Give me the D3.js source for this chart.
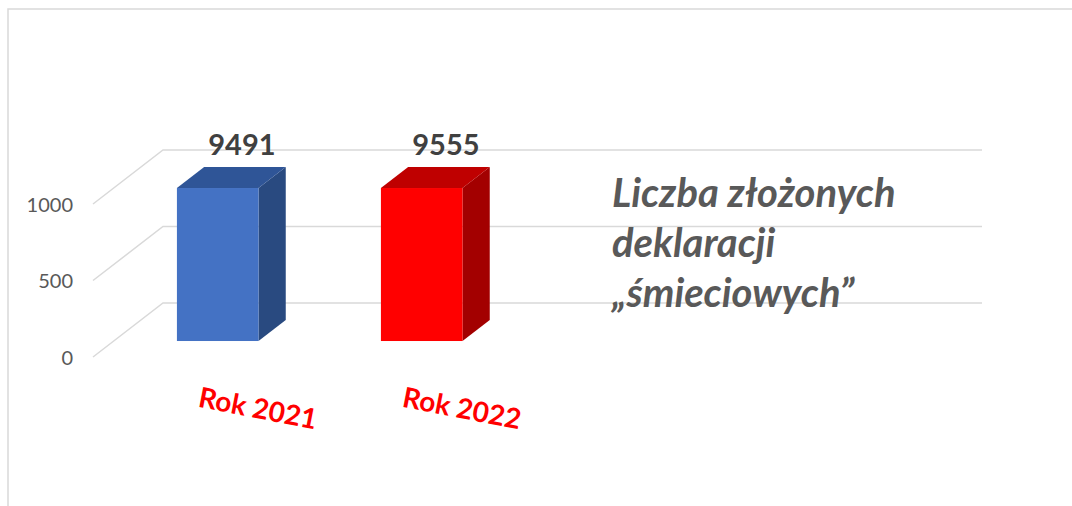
<!DOCTYPE html>
<html>
<head>
<meta charset="utf-8">
<script src="https://cdn.jsdelivr.net/npm/d3@7"></script>
<style>
  html, body { margin: 0; padding: 0; background: #fff; }
  svg { display: block; }
</style>
</head>
<body>
<div id="chart"></div>
<script>
// chart data
var categories = ["Rok 2021", "Rok 2022"];
var values = [9491, 9555];
var tickValues = [0, 500, 1000];
var titleLines = ["Liczba złożonych", "deklaracji", "„śmieciowych”"];

var frontColors = ["#4472C4", "#FF0000"];
var topColors = ["#2F5597", "#BF0000"];
var sideColors = ["#294A80", "#A30000"];

function init() {
    var width = 1072, height = 506;
    var fontFamily = "Lato, 'Open Sans', sans-serif";

    var svg = d3.select("#chart")
        .append("svg")
        .attr("width", width)
        .attr("height", height);

    // chart frame (runs off the right and bottom edge)
    svg.append("rect")
        .attr("x", 8)
        .attr("y", 9)
        .attr("width", width + 20)
        .attr("height", height + 20)
        .attr("fill", "none")
        .attr("stroke", "#d9d9d9")
        .attr("stroke-width", 1.5);

    // depth vector of the floor (front edge -> back wall)
    var depthX = 70, depthY = -54;
    var wallRight = 982;

    // y scale on the front plane; values above the axis max are cut off
    var y = d3.scaleLinear()
        .domain([0, 1000])
        .range([357, 204])
        .clamp(true);

    // x scale on the front plane
    var x = d3.scaleBand()
        .domain(categories)
        .range([95, 503])
        .paddingInner(0.6)
        .paddingOuter(0.3);

    function proj(px, v, z) {
        return [px + z * depthX, y(v) + z * depthY];
    }

    // gridlines: side wall + back wall
    var frontLeft = 93;
    svg.append("g")
        .selectAll("polyline")
        .data(tickValues)
        .join("polyline")
        .attr("points", function (t) {
            var a = proj(frontLeft, t, 0);
            var b = proj(frontLeft, t, 1);
            return [a, b, [wallRight, b[1]]].map(function (p) { return p.join(","); }).join(" ");
        })
        .attr("fill", "none")
        .attr("stroke", "#d9d9d9")
        .attr("stroke-width", 1.5);

    // y axis labels
    var axis = svg.append("g")
        .attr("transform", "translate(73,1)")
        .call(d3.axisLeft(y).tickValues(tickValues).tickFormat(d3.format("d")).tickSize(0).tickPadding(0));
    axis.select(".domain").remove();
    axis.selectAll("text")
        .attr("fill", "#595959")
        .style("font-family", fontFamily)
        .style("font-size", "20px");

    // 3D bars
    var zFront = 0.296, zBack = 0.685;
    var bars = svg.append("g")
        .selectAll("g")
        .data(categories.map(function (c, i) { return { cat: c, value: values[i], i: i }; }))
        .join("g");

    function poly(pts) {
        return pts.map(function (p) { return p.join(","); }).join(" ");
    }

    // side face
    bars.append("polygon")
        .attr("points", function (d) {
            var r = x(d.cat) + x.bandwidth();
            return poly([proj(r, 0, zFront), proj(r, 0, zBack), proj(r, d.value, zBack), proj(r, d.value, zFront)]);
        })
        .attr("fill", function (d) { return sideColors[d.i]; });

    // top face
    bars.append("polygon")
        .attr("points", function (d) {
            var l = x(d.cat), r = l + x.bandwidth();
            return poly([proj(l, d.value, zFront), proj(r, d.value, zFront), proj(r, d.value, zBack), proj(l, d.value, zBack)]);
        })
        .attr("fill", function (d) { return topColors[d.i]; });

    // front face
    bars.append("rect")
        .attr("x", function (d) { return proj(x(d.cat), 0, zFront)[0]; })
        .attr("y", function (d) { return proj(0, d.value, zFront)[1]; })
        .attr("width", x.bandwidth())
        .attr("height", function (d) { return proj(0, 0, zFront)[1] - proj(0, d.value, zFront)[1]; })
        .attr("fill", function (d) { return frontColors[d.i]; });

    // value labels
    bars.append("text")
        .attr("x", function (d) { return proj(x(d.cat) + x.bandwidth() / 2, d.value, zBack)[0] - 3; })
        .attr("y", function (d) { return proj(0, d.value, zBack)[1] - 12; })
        .attr("text-anchor", "middle")
        .attr("fill", "#404040")
        .style("font-family", fontFamily)
        .style("font-weight", "bold")
        .style("font-size", "29px")
        .text(function (d) { return d.value; });

    // category labels, tilted
    svg.append("g")
        .selectAll("text")
        .data(categories)
        .join("text")
        .attr("transform", function (d) {
            return "translate(" + (x(d) + x.bandwidth() / 2 + 59) + ",418) rotate(11)";
        })
        .attr("text-anchor", "middle")
        .attr("fill", "#FF0000")
        .style("font-family", fontFamily)
        .style("font-weight", "bold")
        .style("font-size", "28px")
        .text(function (d) { return d; });

    // title in the plot
    svg.append("g")
        .selectAll("text")
        .data(titleLines)
        .join("text")
        .attr("x", 612)
        .attr("y", function (d, i) { return 207 + i * 50; })
        .attr("fill", "#595959")
        .style("font-family", fontFamily)
        .style("font-weight", "bold")
        .style("font-style", "italic")
        .style("font-size", "40px")
        .text(function (d) { return d; });
}

window.onload = init;
</script>
</body>
</html>
